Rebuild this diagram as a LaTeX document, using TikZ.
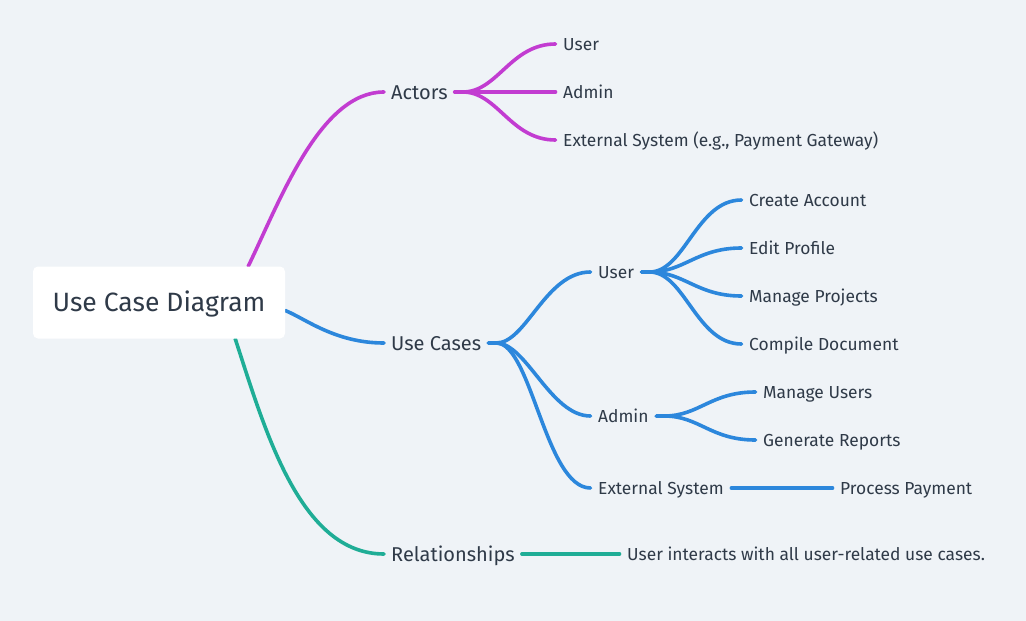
\documentclass[tikz,border=0pt]{standalone}
\usepackage{fontspec}
\setmainfont{Fira Sans}
\usetikzlibrary{backgrounds}
\definecolor{bg}{HTML}{EFF3F7}
\definecolor{ink}{HTML}{2F3A48}
\definecolor{cpur}{HTML}{C23CD1}
\definecolor{cblu}{HTML}{2C87DC}
\definecolor{ctea}{HTML}{1FAD96}
\begin{document}
\begin{tikzpicture}[x=1pt,y=-1pt,
 rootbox/.style={fill=white, rounded corners=5pt, minimum width=252pt, minimum height=72pt, inner sep=0pt, text height=18.5pt, text depth=0pt, text=ink, font=\fontsize{26.5}{30}\selectfont},
 lone/.style={text=ink, font=\fontsize{20}{24}\selectfont, inner xsep=7pt, inner ysep=0pt, text height=14pt, text depth=0pt, anchor=west},
 ltwo/.style={text=ink, font=\fontsize{17.4}{20}\selectfont, inner xsep=7.5pt, inner ysep=0pt, text height=12pt, text depth=0pt, anchor=west},
 br/.style={line width=3.6pt, line cap=round}
]
\useasboundingbox (0,0) rectangle (1026,621);
\node[rootbox] (root) at (159,302.5) {Use Case Diagram};
\node[lone] (actors) at (384,92) {Actors};
\node[lone] (usecases) at (384,343) {Use Cases};
\node[lone] (rel) at (384,554) {Relationships};
\node[ltwo] (a1) at (555.5,44) {User};
\node[ltwo] (a2) at (555.5,92) {Admin};
\node[ltwo] (a3) at (555.5,140) {External System (e.g., Payment Gateway)};
\node[ltwo] (uu) at (590.5,272) {User};
\node[ltwo] (ua) at (590.5,416) {Admin};
\node[ltwo] (ue) at (590.5,488) {External System};
\node[ltwo] (c1) at (741.5,200) {Create Account};
\node[ltwo] (c2) at (741.5,248) {Edit Profile};
\node[ltwo] (c3) at (741.5,296) {Manage Projects};
\node[ltwo] (c4) at (741.5,344) {Compile Document};
\node[ltwo] (m1) at (755.5,392) {Manage Users};
\node[ltwo] (m2) at (755.5,440) {Generate Reports};
\node[ltwo] (pp) at (832.5,488) {Process Payment};
\node[ltwo] (ri) at (619.5,554) {User interacts with all user-related use cases.};
\begin{scope}[on background layer]
\fill[bg] (0,0) rectangle (1026,621);
% root connectors
\draw[br,cpur] ([xshift=-37pt]root.north east) .. controls +(32,-66) and +(-64,0) .. (actors.west);
\draw[br,cblu] ([yshift=-8pt]root.east) .. controls +(20,8) and +(-49,0) .. (usecases.west);
\draw[br,ctea] ([xshift=-50pt]root.south east) .. controls +(30,92) and +(-84,0) .. (rel.west);
% actors
\foreach \c in {a1,a2,a3}
  \draw[br,cpur] (actors.east) -- ++(8,0) .. controls +(35,0) and +(-45,0) .. (\c.west);
% use cases
\draw[br,cblu] (usecases.east) -- ++(8,0) .. controls +(30,0) and +(-45,0) .. (uu.west);
\draw[br,cblu] (usecases.east) -- ++(8,0) .. controls +(30,0) and +(-40,0) .. (ua.west);
\draw[br,cblu] (usecases.east) -- ++(8,0) .. controls +(35,0) and +(-45,0) .. (ue.west);
% user children
\foreach \c in {c1,c2,c3,c4}
  \draw[br,cblu] (uu.east) -- ++(8,0) .. controls +(35,0) and +(-45,0) .. (\c.west);
\foreach \c in {m1,m2}
  \draw[br,cblu] (ua.east) -- ++(8,0) .. controls +(35,0) and +(-45,0) .. (\c.west);
\draw[br,cblu] (ue.east) -- (pp.west);
\draw[br,ctea] (rel.east) -- (ri.west);
\end{scope}
\end{tikzpicture}
\end{document}
